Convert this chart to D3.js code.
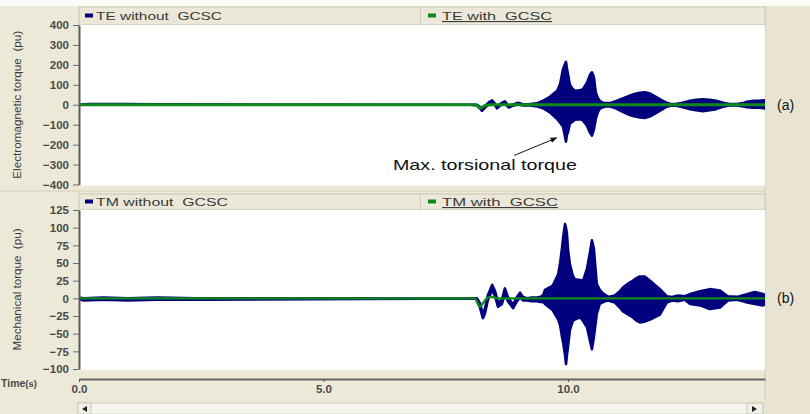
<!DOCTYPE html>
<html><head><meta charset="utf-8">
<script src="https://cdn.jsdelivr.net/npm/d3@7"></script>
<style>html,body{margin:0;padding:0;background:#fff;}svg{display:block;}text{white-space:pre;}</style>
</head><body>
<script>
// ---------------- data ----------------
const xTicks = [0, 5, 10];
const xTickLabels = ["0.0", "5.0", "10.0"];
const teTicks = [400, 300, 200, 100, 0, -100, -200, -300, -400];
const tmTicks = [125, 100, 75, 50, 25, 0, -25, -50, -75, -100];

const seriesNames = ["TE without\u00a0 GCSC", "TE with\u00a0 GCSC", "TM without\u00a0 GCSC", "TM with\u00a0 GCSC"];

// TE without GCSC: per-time max / min of the trace (pu)
const teTime = [0, 0.2, 0.6, 1.0, 1.5, 8.00, 8.14, 8.20, 8.24, 8.30, 8.38, 8.45, 8.51, 8.55, 8.62, 8.71, 8.79, 8.86, 8.98, 9.08, 9.22, 9.37, 9.49, 9.63, 9.78, 9.84, 9.90, 9.94, 9.96, 9.98, 10.00, 10.04, 10.08, 10.14, 10.25, 10.31, 10.39, 10.45, 10.49, 10.53, 10.57, 10.61, 10.65, 10.72, 10.80, 10.86, 11.00, 11.12, 11.21, 11.33, 11.47, 11.57, 11.68, 11.80, 11.92, 12.02, 12.09, 12.20, 12.35, 12.50, 12.62, 12.76, 12.90, 13.03, 13.17, 13.30, 13.46, 13.58, 13.66, 13.80, 13.90, 14.03];
const teMax  = [0, 4, 3, 4, 2, 0, 0, -10, -22, -8, 12, 22, 5, -12, 5, 17, -8, 0, 10, 2, 3, 7, 20, 40, 70, 104, 180, 205, 215, 180, 154, 100, 85, 70, 72, 79, 110, 150, 163, 140, 60, 35, 20, 10, 8, 8, 20, 32, 40, 52, 60, 62, 56, 40, 22, 10, 5, 4, 10, 20, 25, 27, 25, 20, 10, 4, 3, 8, 15, 20, 20, 22];
const teMin  = [0, 1, 0, 1, 0, 0, -3, -18, -30, -15, 4, 14, -3, -18, -3, 9, -14, -6, 3, -4, -3, -8, -17, -38, -72, -90, -110, -160, -185, -150, -138, -95, -88, -75, -72, -80, -105, -140, -155, -125, -70, -38, -20, -12, -8, -8, -20, -35, -46, -56, -64, -66, -58, -42, -25, -10, -5, -4, -12, -22, -28, -32, -28, -22, -10, -4, -3, -8, -12, -15, -15, -18];

// TE with GCSC (pu)
const teGTime = [0, 8.10, 8.16, 8.20, 8.26, 8.32, 8.45, 14.03];
const teGVal  = [0, 0, -8, -18, -10, -2, 0, 0];

// TM without GCSC: per-time max / min of the trace (pu)
const tmTime = [0, 0.1, 0.5, 1.0, 1.6, 2.4, 8.10, 8.14, 8.20, 8.26, 8.30, 8.36, 8.45, 8.51, 8.57, 8.65, 8.71, 8.77, 8.88, 8.94, 9.02, 9.08, 9.16, 9.26, 9.37, 9.43, 9.49, 9.53, 9.69, 9.80, 9.84, 9.88, 9.90, 9.94, 9.96, 9.98, 10.00, 10.04, 10.10, 10.14, 10.25, 10.31, 10.39, 10.45, 10.49, 10.53, 10.59, 10.65, 10.70, 10.76, 10.82, 10.96, 11.06, 11.12, 11.21, 11.33, 11.41, 11.47, 11.57, 11.68, 11.88, 12.02, 12.13, 12.25, 12.39, 12.50, 12.70, 12.90, 13.11, 13.27, 13.46, 13.62, 13.82, 13.99, 14.03];
const tmMax  = [1, 0, 1, 0, 1, 0, 0, 0, -7, -22, -15, 4, 19, 10, -6, -2, 14, 2, -9, 0, 8, 2, 0, 1, 1, 2, 4, 12, 18, 34, 50, 72, 85, 105, 100, 91, 70, 48, 32, 27, 26, 25, 42, 65, 82, 70, 20, 12, 8, 5, 2, 4, 10, 15, 20, 25, 29, 31, 31, 25, 13, 3, 2, 4, 3, 6, 10, 13, 11, 3, 2, 5, 9, 6, 5];
const tmMin  = [-1, -3, -2, -3, -2, -2, 0, -2, -13, -28, -22, -3, 12, 3, -12, -8, 7, -4, -14, -6, 2, -3, -3, -4, -4, -5, -5, -8, -17, -30, -38, -55, -62, -80, -93, -80, -69, -45, -32, -30, -27, -32, -41, -60, -72, -55, -22, -8, -6, -4, -3, -6, -13, -18, -22, -27, -32, -34, -33, -30, -23, -6, -3, -4, -2, -8, -10, -15, -13, -3, -2, -5, -8, -10, -9];

// TM with GCSC (pu)
const tmGTime = [0, 8.10, 8.14, 8.20, 8.26, 8.36, 8.45, 8.55, 14.03];
const tmGVal  = [0, 0, -5, -12, -7, 1, 2, 0, 0];

// ---------------- drawing ----------------
const W = 810, H = 414;
const BEIGE = "#ece9d8", BLUE = "#00007e", GREEN = "#0f8a1a", TXT = "#3a3a3a";
const FONT = "'Liberation Sans', Arial, sans-serif";

const svg = d3.select("body").append("svg").attr("width", W).attr("height", H)
  .style("font-family", FONT);

svg.append("rect").attr("width", W).attr("height", H).attr("fill", BEIGE);
svg.append("rect").attr("width", W).attr("height", 6).attr("fill", "#fbfbf8");
svg.append("rect").attr("x", 765).attr("y", 6).attr("width", 45).attr("height", H - 6).attr("fill", "#e8e4d1");
svg.append("line").attr("x1", 765).attr("x2", 765).attr("y1", 6).attr("y2", 400).attr("stroke", "#cfcbb6");

const x = d3.scaleLinear().domain([0, 14.03]).range([79, 765]);

const panels = [
  { top: 25, bottom: 184.5, legTop: 7, legBot: 25, domain: [-400, 400], ticks: teTicks,
    title: "Electromagnetic torque\u00a0 (pu)", titleLen: 148,
    t: teTime, mx: teMax, mn: teMin, gt: teGTime, gv: teGVal, gw: 3,
    names: [seriesNames[0], seriesNames[1]], tag: "(a)" },
  { top: 210, bottom: 369, legTop: 194, legBot: 210, domain: [-100, 125], ticks: tmTicks,
    title: "Mechanical torque\u00a0 (pu)", titleLen: 122,
    t: tmTime, mx: tmMax, mn: tmMin, gt: tmGTime, gv: tmGVal, gw: 2.4,
    names: [seriesNames[2], seriesNames[3]], tag: "(b)" }
];

panels.forEach((p, i) => {
  const y = d3.scaleLinear().domain(p.domain).range([p.bottom, p.top]);
  p.y = y;
  const g = svg.append("g");

  // legend band
  g.append("rect").attr("x", 79).attr("y", p.legTop).attr("width", 686).attr("height", p.legBot - p.legTop)
    .attr("fill", "#ebe8d9").attr("stroke", "#c9c5b2");
  g.append("line").attr("x1", 421).attr("x2", 421).attr("y1", p.legTop + 1).attr("y2", p.legBot - 1).attr("stroke", "#b9b5a2");
  g.append("line").attr("x1", 422).attr("x2", 422).attr("y1", p.legTop + 1).attr("y2", p.legBot - 1).attr("stroke", "#fff");
  const ly = (p.legTop + p.legBot) / 2;
  g.append("rect").attr("x", 85).attr("y", ly - 2.5).attr("width", 8).attr("height", 4).attr("fill", BLUE);
  g.append("text").attr("x", 96).attr("y", ly + 4).attr("font-size", 11).attr("fill", TXT)
    .attr("textLength", i === 0 ? 126 : 132).attr("lengthAdjust", "spacingAndGlyphs").text(p.names[0]);
  g.append("rect").attr("x", 428).attr("y", ly - 2.5).attr("width", 8).attr("height", 4).attr("fill", GREEN);
  g.append("text").attr("x", 442).attr("y", ly + 4).attr("font-size", 11).attr("fill", TXT)
    .attr("text-decoration", "underline")
    .attr("textLength", i === 0 ? 110 : 116).attr("lengthAdjust", "spacingAndGlyphs").text(p.names[1]);

  // plot area
  g.append("rect").attr("x", 80).attr("y", p.top).attr("width", 685).attr("height", p.bottom - p.top + 1).attr("fill", "#fff");

  const clipId = "clip" + i;
  svg.append("clipPath").attr("id", clipId).append("rect")
    .attr("x", 80).attr("y", p.top).attr("width", 685).attr("height", p.bottom - p.top + 1);

  const blueData = p.t.map((t, k) => ({ t, hi: p.mx[k], lo: p.mn[k] }));
  const area = d3.area().x(d => x(d.t)).y0(d => y(d.lo)).y1(d => y(d.hi));
  g.append("path").datum(blueData).attr("clip-path", `url(#${clipId})`)
    .attr("d", area).attr("fill", BLUE).attr("stroke", BLUE).attr("stroke-width", 2.6).attr("stroke-linejoin", "round");

  const greenData = p.gt.map((t, k) => ({ t, v: p.gv[k] }));
  const line = d3.line().x(d => x(d.t)).y(d => y(d.v)).curve(d3.curveMonotoneX);
  g.append("path").datum(greenData).attr("clip-path", `url(#${clipId})`)
    .attr("d", line).attr("fill", "none").attr("stroke", GREEN).attr("stroke-width", p.gw);

  // y axis
  const ax = g.append("g").attr("transform", "translate(79,0)")
    .call(d3.axisLeft(y).tickValues(p.ticks).tickSize(6).tickPadding(4).tickSizeOuter(0).tickFormat(d3.format("d")));
  ax.select(".domain").attr("stroke", "#5a5a5a").attr("stroke-width", 2);
  ax.selectAll(".tick line").attr("stroke", "#6a6a6a");
  ax.selectAll(".tick text").attr("font-size", 11.5).attr("font-weight", "bold").attr("fill", "#4a4a4a")
    .attr("font-family", FONT);

  // y title
  const cy = (p.top + p.bottom) / 2;
  g.append("text").attr("transform", `translate(21,${cy}) rotate(-90)`).attr("text-anchor", "middle")
    .attr("font-size", 11.5).attr("fill", TXT).attr("textLength", p.titleLen).attr("lengthAdjust", "spacingAndGlyphs")
    .text(p.title);

  // panel tag
  g.append("text").attr("x", 777).attr("y", y(0) + 5).attr("font-size", 14).attr("fill", "#111").text(p.tag);
});

// separator between panels
svg.append("line").attr("x1", 0).attr("x2", 765).attr("y1", 191).attr("y2", 191).attr("stroke", "#d3cfbb");

// x axis
const xa = svg.append("g").attr("transform", "translate(0,379)")
  .call(d3.axisBottom(x).tickValues(xTicks).tickSize(3).tickPadding(3).tickSizeOuter(0)
    .tickFormat((d, k) => xTickLabels[k]));
xa.select(".domain").attr("stroke", "#666").attr("stroke-width", 2);
xa.selectAll(".tick line").attr("stroke", "#555");
xa.selectAll(".tick text").attr("font-size", 11.5).attr("font-weight", "bold").attr("fill", "#4a4a4a").attr("font-family", FONT);

const tl = svg.append("text").attr("x", 1).attr("y", 387).attr("font-size", 10.5).attr("font-weight", "bold").attr("fill", "#4a4a4a");
tl.append("tspan").text("Time");
tl.append("tspan").attr("font-size", 9.5).text("(s)");

// scrollbar
svg.append("rect").attr("x", 78).attr("y", 403).attr("width", 685).attr("height", 11).attr("fill", "#f6f5f0").attr("stroke", "#d5d2c2");
svg.append("rect").attr("x", 78).attr("y", 403).attr("width", 13).attr("height", 11).attr("fill", "#f2f1ea").attr("stroke", "#c9c6b6");
svg.append("rect").attr("x", 747).attr("y", 403).attr("width", 16).attr("height", 11).attr("fill", "#f2f1ea").attr("stroke", "#c9c6b6");
svg.append("path").attr("d", "M82,409 L87,406 L87,412 Z").attr("fill", "#222");
svg.append("path").attr("d", "M757,409 L752,406 L752,412 Z").attr("fill", "#222");

// annotation in panel (a)
const ya = panels[0].y;
svg.append("defs").append("marker").attr("id", "arr").attr("viewBox", "0 0 10 10").attr("refX", 9).attr("refY", 5)
  .attr("markerWidth", 7).attr("markerHeight", 7).attr("orient", "auto")
  .append("path").attr("d", "M0,1 L10,5 L0,9 Z").attr("fill", "#111");
svg.append("line").attr("x1", x(8.90)).attr("y1", ya(-254)).attr("x2", x(9.77)).attr("y2", ya(-166))
  .attr("stroke", "#111").attr("stroke-width", 1).attr("marker-end", "url(#arr)");
svg.append("text").attr("x", x(6.42)).attr("y", ya(-328)).attr("font-size", 14.5).attr("fill", "#111")
  .attr("textLength", 184).attr("lengthAdjust", "spacingAndGlyphs").text("Max. torsional torque");
</script>
</body></html>
